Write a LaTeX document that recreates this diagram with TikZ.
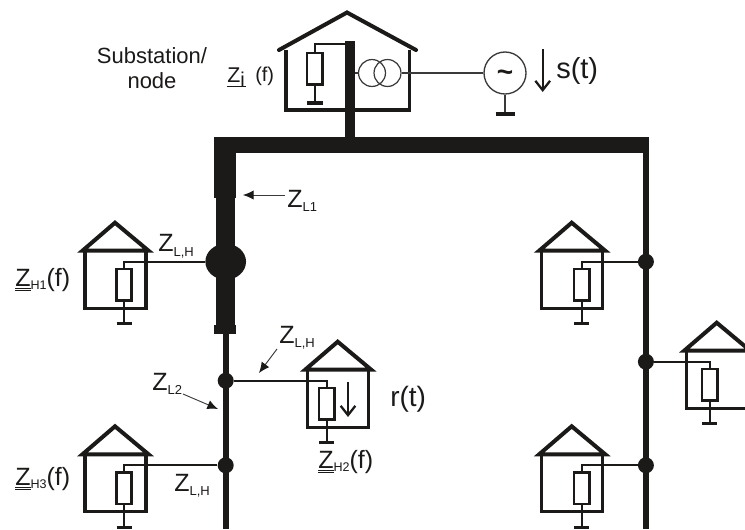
\documentclass[tikz,border=0pt]{standalone}
\usepackage{fontspec}
\setmainfont{Liberation Sans}
\usetikzlibrary{arrows.meta,shapes.geometric}
\definecolor{ink}{HTML}{1C1A18}
\definecolor{thin}{HTML}{3A3A3A}
\newcommand{\fpx}[1]{\fontsize{#1}{#1}\selectfont}
\newcommand{\zlab}[1]{{\fpx{18.75pt}Z\raisebox{-3.4pt}{\fpx{9.75pt}#1}}}
\newcommand{\zund}[1]{{\fpx{18.75pt}\rlap{\rule[-2.6pt]{12pt}{0.8pt}}\rlap{\rule[-3.9pt]{12pt}{0.8pt}}Z\raisebox{-2.6pt}{\fpx{9.4pt}#1}\fpx{18.75pt}(f)}}
\tikzset{
  wall/.style={draw=ink,line width=2.5pt},
  roof/.style={draw=ink,line width=3pt,line cap=round,line join=miter},
  wire/.style={draw=ink,line width=1.5pt},
  res/.style={draw=ink,line width=1.9pt,fill=white,minimum width=11.5pt,minimum height=23.5pt,inner sep=0pt,anchor=north},
  gbar/.style={draw=ink,line width=2.6pt},
  bus/.style={fill=ink,draw=none},
  line/.style={draw=ink,line width=4.8pt},
  junction/.style={circle,fill=ink,minimum size=12pt,inner sep=0pt},
  bigjunction/.style={ellipse,fill=ink,minimum width=30.5pt,minimum height=27pt,inner sep=0pt},
  thinline/.style={draw=thin,line width=0.9pt},
  lab/.style={anchor=base west,inner sep=0pt,text=ink},
  pointer/.style={draw=thin,line width=0.7pt,-{Latex[length=8pt,width=7pt,color=ink]}},
  bigarrow/.style={draw=ink,line width=1.7pt,-{Straight Barb[length=7pt,width=11pt,line width=1.7pt]}},
  pics/house/.style={code={
    \draw[wall] (0,0) -- (0,57.5) -- (61,57.5) -- (61,0);
    \draw[roof] (-2.5,0) -- (30,-28) -- (63.5,0) -- cycle;
    \coordinate (-w) at (#1,11);
    \node[res] (-r) at (#1,17) {};
    \coordinate (-g) at (#1,73);
    \draw[wire] (-r.south) -- (-g);
    \draw[gbar] (#1-7.5,73) -- (#1+7.5,73);
  }},
}
\begin{document}
\begin{tikzpicture}[x=0.75pt,y=-0.75pt]
\useasboundingbox (0,0) rectangle (745,529);
\clip (0,0) rectangle (745,529);
\fill[white] (0,0) rectangle (745,529);
% main lines
\fill[bus] (214.3,136.7) rectangle (649.3,153.3);
\fill[bus] (214.3,136.7) rectangle (236,198);
\fill[bus] (216,198) rectangle (235,325);
\fill[bus] (214.3,325) rectangle (236,334);
\fill[bus] (345,41) rectangle (355,137);
\coordinate (ltop) at (225.7,330);
\coordinate (lend) at (225.7,529);
\coordinate (rtop) at (645.9,150);
\coordinate (rend) at (645.9,529);
\draw[line] (ltop) -- (lend);
\draw[line] (rtop) -- (rend);
% junctions
\node[bigjunction] (j1) at (225.7,261.7) {};
\node[junction] (j2) at (225.7,380.7) {};
\node[junction] (j3) at (225.7,465.3) {};
\node[junction] (j4) at (645.9,261.7) {};
\node[junction] (j5) at (645.9,361.7) {};
\node[junction] (j6) at (645.9,465.3) {};
% houses
\pic (h1) at (85,250.7) {house=39};
\pic (h2) at (307.7,369.7) {house=19};
\pic (h3) at (85,454.3) {house=39};
\pic (h4) at (541.7,250.7) {house=40};
\pic (h5) at (686.7,350.7) {house=23};
\pic (h6) at (541.7,454.3) {house=40};
\foreach \h/\j in {h1/j1,h2/j2,h3/j3,h4/j4,h5/j5,h6/j6}
  \draw[wire] (\j) -- (\h-w) -- (\h-r.north);
% substation
\draw[wall] (286,50) -- (286,110) -- (409.3,110) -- (409.3,50);
\draw[roof] (279,50) -- (347,12.5) -- (416,50);
\node[res] (rz) at (314.7,51.7) {};
\coordinate (rzw) at (314.7,44);
\coordinate (busz) at (345,44);
\draw[wire] (rz.north) -- (rzw) -- (busz);
\coordinate (rzg) at (314.7,103);
\draw[wire] (rz.south) -- (rzg);
\draw[gbar] (307,103) -- (323,103);
% transformer and source
\node[circle,draw=thin,line width=0.9pt,minimum size=20.2pt,inner sep=0pt] (t1) at (372,73) {};
\node[circle,draw=thin,line width=0.9pt,minimum size=20.2pt,inner sep=0pt] (t2) at (387.5,73) {};
\coordinate (busr) at (355,73);
\draw[thinline] (busr) -- (t1);
\node[circle,draw=thin,line width=1pt,minimum size=31.5pt,inner sep=0pt] (gen) at (505,73) {};
\draw[thinline] (t2) -- (gen);
\node[inner sep=0pt,text=ink] (tilde) at (505,76) {\fpx{21pt}\bfseries\textasciitilde};
\coordinate (geng) at (505,114);
\draw[thinline] (gen) -- (geng);
\draw[gbar] (495.5,114) -- (514.5,114);
% signal arrows
\coordinate (sa) at (542.7,49);
\coordinate (sb) at (542.7,92);
\draw[bigarrow] (sa) -- (sb);
\coordinate (ra) at (348,382);
\coordinate (rb) at (348,417);
\draw[bigarrow] (ra) -- (rb);
% pointers
\coordinate (p1a) at (285,195);
\coordinate (p1b) at (243,195);
\draw[pointer] (p1a) -- (p1b);
\coordinate (p2a) at (277,349);
\coordinate (p2b) at (259,373);
\draw[pointer] (p2a) -- (p2b);
\coordinate (p3a) at (183,394);
\coordinate (p3b) at (218,409);
\draw[pointer] (p3a) -- (p3b);
% labels
\node[text=ink,align=center,inner sep=0pt,font=\fontsize{16.5pt}{18.8pt}\selectfont] (sub) at (152,68) {Substation/\\node};
\node[lab] (zi) at (227,82) {{\fpx{16pt}\rlap{\rule[-3.8pt]{14pt}{0.7pt}}Z\raisebox{-3.5pt}{\fpx{15pt}i}}};
\node[lab] (zif) at (255,81) {\fpx{15pt}(f)};
\node[lab] (st) at (556,78) {\fpx{21.75pt}s(t)};
\node[lab] (rt) at (390,406) {\fpx{21pt}r(t)};
\node[lab] (zl1) at (287,207) {\zlab{L1}};
\node[lab] (zlh1) at (158,251.7) {\zlab{L,H}};
\node[lab] (zlh2) at (279,343) {\zlab{L,H}};
\node[lab] (zl2) at (152,390) {\zlab{L2}};
\node[lab] (zlh3) at (174,491) {\zlab{L,H}};
\node[lab] (zh1) at (15,286) {\zund{H1}};
\node[lab] (zh2) at (318,468) {\zund{H2}};
\node[lab] (zh3) at (15,485) {\zund{H3}};
\end{tikzpicture}
\end{document}
